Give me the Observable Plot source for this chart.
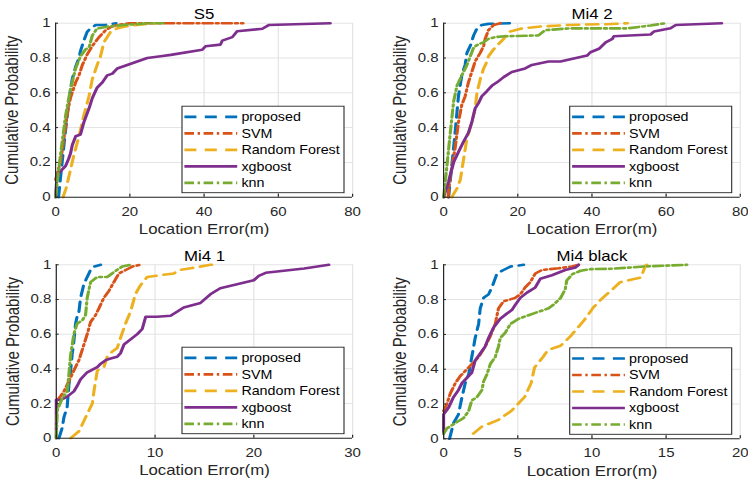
<!DOCTYPE html>
<html><head><meta charset="utf-8">
<script src="https://cdn.jsdelivr.net/npm/d3@7"></script>
<script src="https://cdn.jsdelivr.net/npm/@observablehq/plot@0.6"></script>
<style>
body{margin:0;background:#fff;}
#wrap{position:relative;width:748px;height:483px;overflow:hidden;background:#fff;}
.panel{position:absolute;}
</style></head><body><div id="wrap"></div>
<script>
const methods = ["proposed", "SVM", "Random Forest", "xgboost", "knn"];
const colors = ["#0072BD", "#D95319", "#EDB120", "#7E2F8E", "#77AC30"];
const yTicks = [0, 0.2, 0.4, 0.6, 0.8, 1];
const yTickLabels = ["0", "0.2", "0.4", "0.6", "0.8", "1"];
const xTicksWide = [0, 20, 40, 60, 80];
const xTickLabelsWide = ["0", "20", "40", "60", "80"];
const xTicksMi41 = [0, 10, 20, 30];
const xTickLabelsMi41 = ["0", "10", "20", "30"];
const xTicksBlack = [0, 5, 10, 15, 20];
const xTickLabelsBlack = ["0", "5", "10", "15", "20"];
const titles = ["S5", "Mi4 2", "Mi4 1", "Mi4 black"];
const xLabel = "Location Error(m)";
const yLabel = "Cumulative Probability";

// S5 : [location error (m), cumulative probability]
const s5Proposed = [[0.8,0],[1.5,0.15],[2.5,0.35],[3.3,0.5],[4,0.62],[4.5,0.68],[5.4,0.75],[6.3,0.8],[6.7,0.84],[7.6,0.9],[8.5,0.95],[9.4,0.97],[10.8,0.99],[13.5,0.99],[16.3,1]];
const s5SVM = [[0,0.1],[0.5,0.14],[1.3,0.2],[2.0,0.3],[2.7,0.41],[3.3,0.5],[4,0.57],[5.4,0.66],[6.3,0.7],[7.2,0.76],[8.5,0.82],[9.9,0.87],[11.7,0.92],[13.5,0.96],[15,0.98],[16.6,0.99],[20,1],[50.5,1]];
const s5RF = [[2,0],[2.8,0.05],[3.6,0.12],[4.9,0.24],[6.3,0.35],[7.6,0.47],[9,0.58],[9.9,0.68],[11.2,0.76],[12.1,0.81],[13,0.89],[14.8,0.95],[16.5,0.97],[18.4,0.98],[22,0.99],[27,1]];
const s5XGB = [[0,0],[0.3,0.1],[0.9,0.14],[2.7,0.18],[3.5,0.22],[4,0.25],[4.5,0.3],[5.4,0.35],[6.7,0.36],[7.6,0.43],[9,0.51],[9.9,0.57],[11.2,0.63],[12.6,0.66],[13.9,0.7],[15.3,0.71],[16.6,0.74],[19.3,0.76],[22,0.78],[24.7,0.8],[28.3,0.81],[31,0.818],[39.5,0.847],[40.4,0.868],[44.4,0.877],[44.9,0.9],[47.6,0.92],[48.9,0.954],[55.7,0.968],[57.5,0.99],[74,1]];
const s5KNN = [[0,0],[0.5,0.1],[1.3,0.24],[2.7,0.47],[4,0.62],[5.4,0.74],[6.7,0.81],[8.1,0.85],[9,0.86],[9.9,0.93],[11.2,0.97],[13.9,0.98],[18.4,0.99],[25.6,1],[29,1]];

// Mi4 2
const m2Proposed = [[1.35,0],[2.2,0.18],[3.1,0.37],[4,0.58],[4.9,0.7],[5.8,0.76],[6.3,0.83],[7.2,0.87],[8.1,0.93],[9,0.97],[10.3,0.99],[12.1,0.996],[17.8,1]];
const m2SVM = [[1.2,0],[1.8,0.12],[3.1,0.28],[4,0.43],[4.9,0.53],[5.8,0.58],[6.7,0.66],[7.6,0.72],[8.5,0.78],[9.9,0.83],[10.8,0.87],[11.2,0.91],[12.1,0.96],[13.5,0.99],[15.3,1]];
const m2RF = [[2.2,0],[3.6,0.05],[4.5,0.1],[5.4,0.22],[6.3,0.34],[7.6,0.43],[8.5,0.51],[9,0.6],[9.9,0.68],[10.8,0.74],[11.7,0.78],[12.1,0.81],[13.5,0.85],[14.8,0.88],[16.2,0.91],[17.5,0.95],[21.1,0.97],[25.6,0.98],[33.7,0.99],[45,0.995],[49.6,1]];
const m2XGB = [[0,0],[1.35,0.09],[2.7,0.2],[4,0.26],[5.4,0.32],[6.7,0.37],[7.6,0.43],[8.5,0.51],[9.4,0.54],[10.3,0.58],[11.7,0.61],[13,0.64],[14.4,0.66],[16.2,0.69],[18.4,0.72],[22,0.74],[23.8,0.76],[28.3,0.78],[31.5,0.78],[38.7,0.814],[39.6,0.833],[41.9,0.853],[43.7,0.89],[45.5,0.91],[45.9,0.925],[55.8,0.935],[56.7,0.952],[61.2,0.971],[62.6,0.99],[75,1]];
const m2KNN = [[0,0],[0.9,0.18],[1.8,0.37],[2.7,0.55],[3.6,0.64],[4.9,0.7],[6.3,0.76],[7.2,0.81],[8.1,0.86],[9.4,0.88],[10.8,0.89],[12.1,0.91],[13.9,0.92],[16.6,0.925],[25.6,0.93],[27.4,0.96],[33.7,0.97],[49.5,0.97],[55.8,0.987],[59.9,1]];

// Mi4 1
const m1Proposed = [[0.27,0],[0.6,0.06],[0.77,0.12],[1.1,0.18],[1.28,0.31],[1.45,0.39],[1.6,0.48],[1.78,0.56],[1.95,0.66],[2.1,0.7],[2.29,0.73],[2.46,0.81],[2.63,0.85],[2.8,0.89],[3.13,0.93],[3.47,0.97],[3.81,0.99],[4.5,1]];
const m1SVM = [[0,0.22],[0.27,0.23],[0.77,0.27],[1.28,0.33],[1.78,0.39],[2.29,0.45],[2.63,0.51],[3.13,0.6],[3.47,0.67],[3.98,0.71],[4.32,0.75],[4.82,0.81],[5.33,0.85],[5.83,0.9],[6.34,0.95],[7.02,0.97],[7.7,0.99],[8.5,1]];
const m1RF = [[1.45,0],[2.3,0.04],[2.8,0.1],[3.3,0.16],[3.65,0.2],[3.81,0.27],[4.15,0.39],[4.82,0.41],[5.16,0.47],[5.67,0.5],[6.17,0.52],[6.51,0.58],[7,0.66],[7.52,0.73],[8,0.83],[8.5,0.88],[9.2,0.93],[11.9,0.95],[12.4,0.969],[13.6,0.98],[15.6,1],[16.3,1]];
const m1XGB = [[0,0],[0,0.22],[0.4,0.22],[1.1,0.24],[1.78,0.27],[2.1,0.3],[2.46,0.34],[3.13,0.38],[3.47,0.39],[4.15,0.41],[4.5,0.43],[5,0.45],[5.5,0.46],[6.17,0.47],[6.5,0.49],[6.85,0.54],[7.52,0.57],[8.2,0.6],[8.7,0.63],[9.05,0.7],[10.2,0.7],[11.57,0.706],[12.1,0.725],[12.9,0.754],[14.6,0.78],[15.6,0.83],[16.6,0.865],[18.3,0.888],[20,0.911],[20.5,0.936],[21.2,0.954],[25.1,0.979],[27.6,1]];
const m1KNN = [[0,0],[0.1,0.16],[0.6,0.23],[1.1,0.27],[1.28,0.37],[1.45,0.48],[1.78,0.6],[2.1,0.66],[2.63,0.68],[2.96,0.71],[3.13,0.81],[3.47,0.9],[4.15,0.93],[5.16,0.93],[6,0.965],[6.68,0.99],[7.5,1]];

// Mi4 black
const mbProposed = [[0.4,0],[0.67,0.09],[1.0,0.14],[1.24,0.24],[1.46,0.32],[1.69,0.37],[1.9,0.47],[2.13,0.58],[2.36,0.66],[2.47,0.75],[2.7,0.81],[3.03,0.83],[3.26,0.87],[3.6,0.95],[4.04,0.97],[4.5,0.99],[5.4,1]];
const mbSVM = [[0,0.16],[0.22,0.2],[0.45,0.26],[0.79,0.32],[1.12,0.36],[1.46,0.39],[1.91,0.43],[2.36,0.47],[2.8,0.53],[3.15,0.59],[3.48,0.66],[3.7,0.75],[4.04,0.79],[4.83,0.81],[5.17,0.83],[5.5,0.87],[5.84,0.9],[6.18,0.95],[6.63,0.97],[7.75,0.98],[8.65,0.99],[9.1,1]];
const mbRF = [[2,0.03],[2.58,0.07],[3.66,0.107],[4.56,0.16],[5.46,0.24],[5.9,0.32],[6.13,0.41],[6.7,0.47],[7.03,0.51],[7.89,0.535],[8.56,0.59],[9.46,0.68],[10.1,0.755],[10.6,0.8],[11.26,0.85],[11.9,0.9],[13.3,0.927],[13.6,0.994],[13.7,1]];
const mbXGB = [[0,0.03],[0,0.14],[0.34,0.18],[0.67,0.24],[1.0,0.28],[1.24,0.32],[1.57,0.35],[1.9,0.38],[2.13,0.45],[2.47,0.49],[2.8,0.53],[3.03,0.58],[3.37,0.64],[3.82,0.69],[4.27,0.72],[4.6,0.74],[4.83,0.77],[5.17,0.81],[5.62,0.84],[6.18,0.87],[6.52,0.92],[7.3,0.94],[8.2,0.97],[8.9,0.985],[9.1,1]];
const mbKNN = [[0,0.03],[0.22,0.06],[0.79,0.09],[1.35,0.12],[1.69,0.16],[1.9,0.22],[2.25,0.24],[2.58,0.28],[2.7,0.33],[2.92,0.37],[3.15,0.43],[3.48,0.47],[3.7,0.53],[3.82,0.58],[4.16,0.61],[4.5,0.66],[5.06,0.69],[5.73,0.71],[6.4,0.73],[7.08,0.75],[7.4,0.77],[7.89,0.81],[8.2,0.86],[8.3,0.91],[8.68,0.946],[9.24,0.966],[9.9,0.975],[11.26,0.977],[13.5,0.99],[16.4,1]];

// ---- styling / layout (not data) ----
const FONT = "'Liberation Sans', Arial, Helvetica, sans-serif";
const SX = 1.2;            // horizontal stretch of the reference rendering
const LW = 2.6;
const dashes = ["10,6", "8,3,2,3", "10,6", null, "8,3,2,3"];
const legendDashes = ["10,7", "8,3,2,3", "10,7", null, "8,3,2,3"];

function makePanel(cfg) {
  const {title, xTicks, xTickLabels, series, left, top, dispW, H,
         plotLeft, plotRight, plotTop, plotBottom, titleDy} = cfg;
  const W = dispW / SX;
  const mL = plotLeft / SX, mR = W - plotRight / SX;
  const mT = plotTop, mB = H - plotBottom;
  const fmtX = d => xTickLabels[xTicks.indexOf(d)];
  const fmtY = d => yTickLabels[yTicks.indexOf(d)];
  const svg = Plot.plot({
    width: W, height: H,
    marginLeft: mL, marginRight: mR, marginTop: mT, marginBottom: mB,
    style: {fontFamily: FONT, fontSize: "12.5px", color: "#262626", background: "#fff", overflow: "visible"},
    x: {domain: [xTicks[0], xTicks[xTicks.length - 1]]},
    y: {domain: [0, 1]},
    marks: [
      Plot.gridX(xTicks, {stroke: "#e4e4e4", strokeOpacity: 1}),
      Plot.gridY(yTicks, {stroke: "#e4e4e4", strokeOpacity: 1}),
      ...series.map((pts, i) => Plot.line(pts, {
        x: d => d[0], y: d => d[1], stroke: colors[i], strokeWidth: LW,
        strokeDasharray: dashes[i] || undefined
      })),
      Plot.ruleY([0], {stroke: "#262626"}),
      Plot.ruleX([xTicks[0]], {stroke: "#262626"}),
      Plot.axisX({ticks: xTicks, tickSize: -3, tickPadding: 12.5, tickFormat: fmtX, label: null, fontSize: 12.5}),
      Plot.axisY({ticks: yTicks, tickSize: -2.5, tickPadding: 6.7, tickFormat: fmtY, label: null, fontSize: 12.5}),
      Plot.text([title], {text: d => d, frameAnchor: "top", dy: titleDy, fontSize: 14, fill: "#000"}),
      Plot.text([xLabel], {text: d => d, frameAnchor: "bottom", dy: 37, fontSize: 14, fill: "#262626"}),
      Plot.text([yLabel], {text: d => d, frameAnchor: "left", textAnchor: "middle", rotate: -90, dx: -36, fontSize: 15, fill: "#262626"})
    ]
  });
  // legend (inside the axes, lower right)
  const lw = 135, lh = 86.5;
  const bx = plotRight / SX - 8 / SX - lw, by = plotBottom - 4 - lh;
  const g = d3.select(svg).append("g").attr("font-family", FONT).attr("font-size", 11.9).attr("text-anchor", "start");
  g.append("rect").attr("x", bx).attr("y", by).attr("width", lw).attr("height", lh)
    .attr("fill", "#fff").attr("stroke", "#262626").attr("stroke-width", 0.9);
  methods.forEach((m, i) => {
    const cy = by + 10.7 + i * 16.5;
    const ln = g.append("line").attr("x1", bx + 2).attr("x2", bx + 46).attr("y1", cy).attr("y2", cy)
      .attr("stroke", colors[i]).attr("stroke-width", LW);
    if (legendDashes[i]) ln.attr("stroke-dasharray", legendDashes[i]);
    g.append("text").attr("x", bx + 49.5).attr("y", cy).attr("dy", "0.35em")
      .attr("text-anchor", "start").attr("fill", "#000").text(m);
  });
  svg.setAttribute("width", dispW);
  svg.setAttribute("height", H);
  svg.setAttribute("viewBox", `0 0 ${W} ${H}`);
  svg.setAttribute("preserveAspectRatio", "none");
  svg.style.width = dispW + "px";
  svg.style.height = H + "px";
  svg.style.maxWidth = "none";
  const div = document.createElement("div");
  div.className = "panel";
  div.style.left = left + "px";
  div.style.top = top + "px";
  div.appendChild(svg);
  document.getElementById("wrap").appendChild(div);
}

makePanel({title: titles[0], xTicks: xTicksWide, xTickLabels: xTickLabelsWide,
  series: [s5Proposed, s5SVM, s5RF, s5XGB, s5KNN],
  left: 0, top: 0, dispW: 374, H: 240, plotLeft: 55, plotRight: 352, plotTop: 22.7, plotBottom: 196.7, titleDy: -14});
makePanel({title: titles[1], xTicks: xTicksWide, xTickLabels: xTickLabelsWide,
  series: [m2Proposed, m2SVM, m2RF, m2XGB, m2KNN],
  left: 374, top: 0, dispW: 374, H: 240, plotLeft: 69, plotRight: 365.7, plotTop: 22.7, plotBottom: 196.7, titleDy: -14});
makePanel({title: titles[2], xTicks: xTicksMi41, xTickLabels: xTickLabelsMi41,
  series: [m1Proposed, m1SVM, m1RF, m1XGB, m1KNN],
  left: 0, top: 240, dispW: 374, H: 243, plotLeft: 55.7, plotRight: 352, plotTop: 24.3, plotBottom: 197.7, titleDy: -13.5});
makePanel({title: titles[3], xTicks: xTicksBlack, xTickLabels: xTickLabelsBlack,
  series: [mbProposed, mbSVM, mbRF, mbXGB, mbKNN],
  left: 374, top: 240, dispW: 374, H: 243, plotLeft: 69, plotRight: 365.7, plotTop: 24.3, plotBottom: 198.3, titleDy: -13.5});
</script>
</body></html>
